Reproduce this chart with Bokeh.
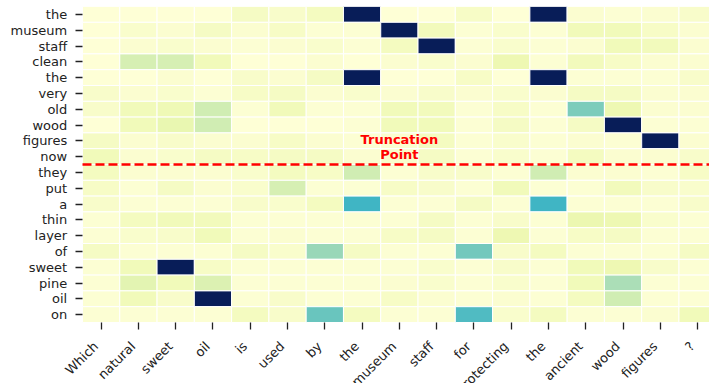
import math

from bokeh.core.properties import value
from bokeh.embed import file_html
from bokeh.models import (ColumnDataSource, FixedTicker, LabelSet, LinearAxis,
                          LinearColorMapper, Range1d)
from bokeh.plotting import figure
from bokeh.resources import INLINE

# Question tokens (columns) and context tokens (rows)
question_tokens = ["Which", "natural", "sweet", "oil", "is", "used", "by", "the", "museum",
                   "staff", "for", "protecting", "the", "ancient", "wood", "figures", "?"]
context_tokens = ["the", "museum", "staff", "clean", "the", "very", "old", "wood", "figures",
                  "now", "they", "put", "a", "thin", "layer", "of", "sweet", "pine", "oil", "on"]

# Rows kept before the truncation point
kept_rows = 10

# Attention weights, one row per context token
weights = [
    [0.01, 0.01, 0.01, 0.01, 0.07, 0.05, 0.08, 1.00, 0.01, 0.01, 0.06, 0.01, 1.00, 0.03, 0.02, 0.03, 0.05],
    [0.01, 0.04, 0.03, 0.07, 0.03, 0.06, 0.02, 0.02, 1.00, 0.09, 0.02, 0.04, 0.02, 0.10, 0.10, 0.06, 0.03],
    [0.01, 0.03, 0.04, 0.03, 0.02, 0.03, 0.04, 0.02, 0.08, 1.00, 0.02, 0.04, 0.02, 0.03, 0.10, 0.09, 0.03],
    [0.01, 0.20, 0.20, 0.10, 0.01, 0.01, 0.03, 0.01, 0.03, 0.04, 0.03, 0.12, 0.02, 0.09, 0.06, 0.03, 0.03],
    [0.01, 0.01, 0.03, 0.01, 0.05, 0.03, 0.07, 1.00, 0.01, 0.01, 0.06, 0.01, 1.00, 0.02, 0.02, 0.02, 0.05],
    [0.05, 0.03, 0.04, 0.02, 0.06, 0.07, 0.03, 0.04, 0.03, 0.05, 0.03, 0.04, 0.03, 0.07, 0.07, 0.03, 0.03],
    [0.05, 0.10, 0.11, 0.22, 0.02, 0.10, 0.02, 0.02, 0.10, 0.09, 0.02, 0.06, 0.02, 0.38, 0.12, 0.03, 0.03],
    [0.01, 0.10, 0.14, 0.22, 0.01, 0.01, 0.01, 0.02, 0.10, 0.10, 0.02, 0.07, 0.02, 0.07, 1.00, 0.02, 0.02],
    [0.07, 0.03, 0.05, 0.03, 0.03, 0.06, 0.03, 0.02, 0.03, 0.08, 0.02, 0.04, 0.02, 0.03, 0.02, 1.00, 0.03],
    [0.10, 0.03, 0.04, 0.07, 0.06, 0.07, 0.07, 0.03, 0.04, 0.07, 0.02, 0.04, 0.02, 0.08, 0.03, 0.03, 0.05],
    [0.08, 0.03, 0.03, 0.03, 0.04, 0.08, 0.06, 0.22, 0.02, 0.05, 0.05, 0.02, 0.22, 0.03, 0.03, 0.02, 0.06],
    [0.06, 0.02, 0.07, 0.03, 0.04, 0.20, 0.02, 0.02, 0.06, 0.05, 0.02, 0.10, 0.02, 0.02, 0.09, 0.05, 0.04],
    [0.05, 0.02, 0.02, 0.02, 0.05, 0.04, 0.08, 0.50, 0.02, 0.02, 0.07, 0.02, 0.50, 0.02, 0.02, 0.02, 0.05],
    [0.02, 0.08, 0.10, 0.09, 0.02, 0.02, 0.02, 0.02, 0.02, 0.07, 0.02, 0.05, 0.02, 0.13, 0.12, 0.04, 0.02],
    [0.02, 0.04, 0.05, 0.10, 0.02, 0.03, 0.02, 0.02, 0.06, 0.07, 0.02, 0.12, 0.02, 0.06, 0.07, 0.02, 0.02],
    [0.07, 0.02, 0.02, 0.02, 0.07, 0.04, 0.33, 0.07, 0.02, 0.02, 0.40, 0.05, 0.08, 0.02, 0.02, 0.02, 0.07],
    [0.02, 0.10, 1.00, 0.06, 0.02, 0.02, 0.02, 0.02, 0.02, 0.04, 0.02, 0.05, 0.02, 0.10, 0.12, 0.05, 0.02],
    [0.02, 0.16, 0.10, 0.18, 0.02, 0.02, 0.02, 0.02, 0.03, 0.04, 0.02, 0.04, 0.02, 0.10, 0.30, 0.02, 0.02],
    [0.02, 0.10, 0.05, 1.00, 0.02, 0.05, 0.02, 0.02, 0.06, 0.03, 0.02, 0.03, 0.02, 0.08, 0.22, 0.02, 0.02],
    [0.02, 0.02, 0.02, 0.02, 0.08, 0.05, 0.42, 0.08, 0.02, 0.02, 0.47, 0.04, 0.08, 0.02, 0.02, 0.03, 0.10],
]

# YlGnBu colour stops, light to dark, expanded to a smooth 256-step palette
stops = ["#ffffd9", "#edf8b1", "#c7e9b4", "#7fcdbb", "#41b6c4",
         "#1d91c0", "#225ea8", "#253494", "#081d58"]


def expand(colors, n=256):
    rgb = [tuple(int(c[i:i + 2], 16) for i in (1, 3, 5)) for c in colors]
    out = []
    for k in range(n):
        t = k / (n - 1) * (len(rgb) - 1)
        i = min(int(t), len(rgb) - 2)
        f = t - i
        a, b = rgb[i], rgb[i + 1]
        out.append("#%02x%02x%02x" % tuple(round(a[j] + (b[j] - a[j]) * f) for j in range(3)))
    return out


palette = expand(stops)
mapper = LinearColorMapper(palette=palette, low=0.0, high=1.0)

xs, ys, vals = [], [], []
for r, row in enumerate(weights):
    for c, v in enumerate(row):
        xs.append(c)
        ys.append(r)
        vals.append(v)
source = ColumnDataSource(dict(x=xs, y=ys, w=vals))

n_cols = len(question_tokens)
n_rows = len(context_tokens)

# Page geometry: the frame fills the page so token labels can sit around the grid
col_px, row_px = 37.28, 15.8
left_pad, grid_left_px, grid_top_px = 8, 82, 6
frame_w, frame_h = 709 - left_pad, 383 - grid_top_px
grid_left, grid_bottom = -0.5, n_rows - 0.5
x_start = grid_left - (grid_left_px - left_pad) / col_px

p = figure(
    frame_width=frame_w, frame_height=frame_h,
    x_range=Range1d(x_start, x_start + frame_w / col_px),
    y_range=Range1d(-0.5 + frame_h / row_px, -0.5),
    output_backend="svg", toolbar_location=None,
    x_axis_location=None, y_axis_location=None,
    min_border_left=left_pad, min_border_right=0, min_border_top=grid_top_px,
    min_border_bottom=0,
)
p.outline_line_color = None
p.background_fill_color = "white"
p.grid.visible = False

p.rect(x="x", y="y", width=1, height=1, source=source,
       fill_color={"field": "w", "transform": mapper},
       line_color="white", line_width=1)

tick_style = dict(axis_line_color=None, minor_tick_line_color=None,
                  major_label_text_font_size="0px", major_label_standoff=0,
                  major_tick_line_width=1.3, major_tick_line_color="#222222")

# Column ticks pinned to the bottom edge of the grid
xaxis = LinearAxis(fixed_location=grid_bottom,
                   ticker=FixedTicker(ticks=list(range(n_cols))),
                   major_label_overrides={i: "" for i in range(n_cols)},
                   major_tick_in=7, major_tick_out=0, **tick_style)
p.add_layout(xaxis, "above")

# Row ticks pinned to the left edge of the grid
yaxis = LinearAxis(fixed_location=grid_left,
                   ticker=FixedTicker(ticks=list(range(n_rows))),
                   major_label_overrides={i: "" for i in range(n_rows)},
                   major_tick_in=0, major_tick_out=7, **tick_style)
p.add_layout(yaxis, "left")

label_font = dict(text_font=value("DejaVu Sans"), text_font_size=value("13px"),
                  text_color="#222222")

col_labels = ColumnDataSource(dict(x=list(range(n_cols)),
                                   y=[grid_bottom] * n_cols,
                                   t=question_tokens))
p.add_layout(LabelSet(x="x", y="y", text="t", source=col_labels,
                      angle=math.pi / 4, text_align="right", text_baseline="middle",
                      x_offset=-5.3, y_offset=-21.5, **label_font))

row_labels = ColumnDataSource(dict(x=[grid_left] * n_rows,
                                   y=list(range(n_rows)),
                                   t=context_tokens))
p.add_layout(LabelSet(x="x", y="y", text="t", source=row_labels,
                      text_align="right", text_baseline="middle",
                      x_offset=-15.3, y_offset=0, **label_font))

# Truncation marker between the kept and dropped context rows
cut = kept_rows - 0.5
p.line(x=[grid_left, n_cols - 0.5], y=[cut, cut], line_color="red",
       line_width=2.5, line_dash="9 4")

label_x = question_tokens.index("museum")
p.text(x=[label_x, label_x], y=[cut - 1.11, cut - 0.13], text=["Truncation", "Point"],
       text_color="red", text_font=value("DejaVu Sans"), text_font_style="bold",
       text_font_size="13px", text_align="center", text_baseline="bottom")

open("out.html", "w").write(file_html(p, INLINE))
